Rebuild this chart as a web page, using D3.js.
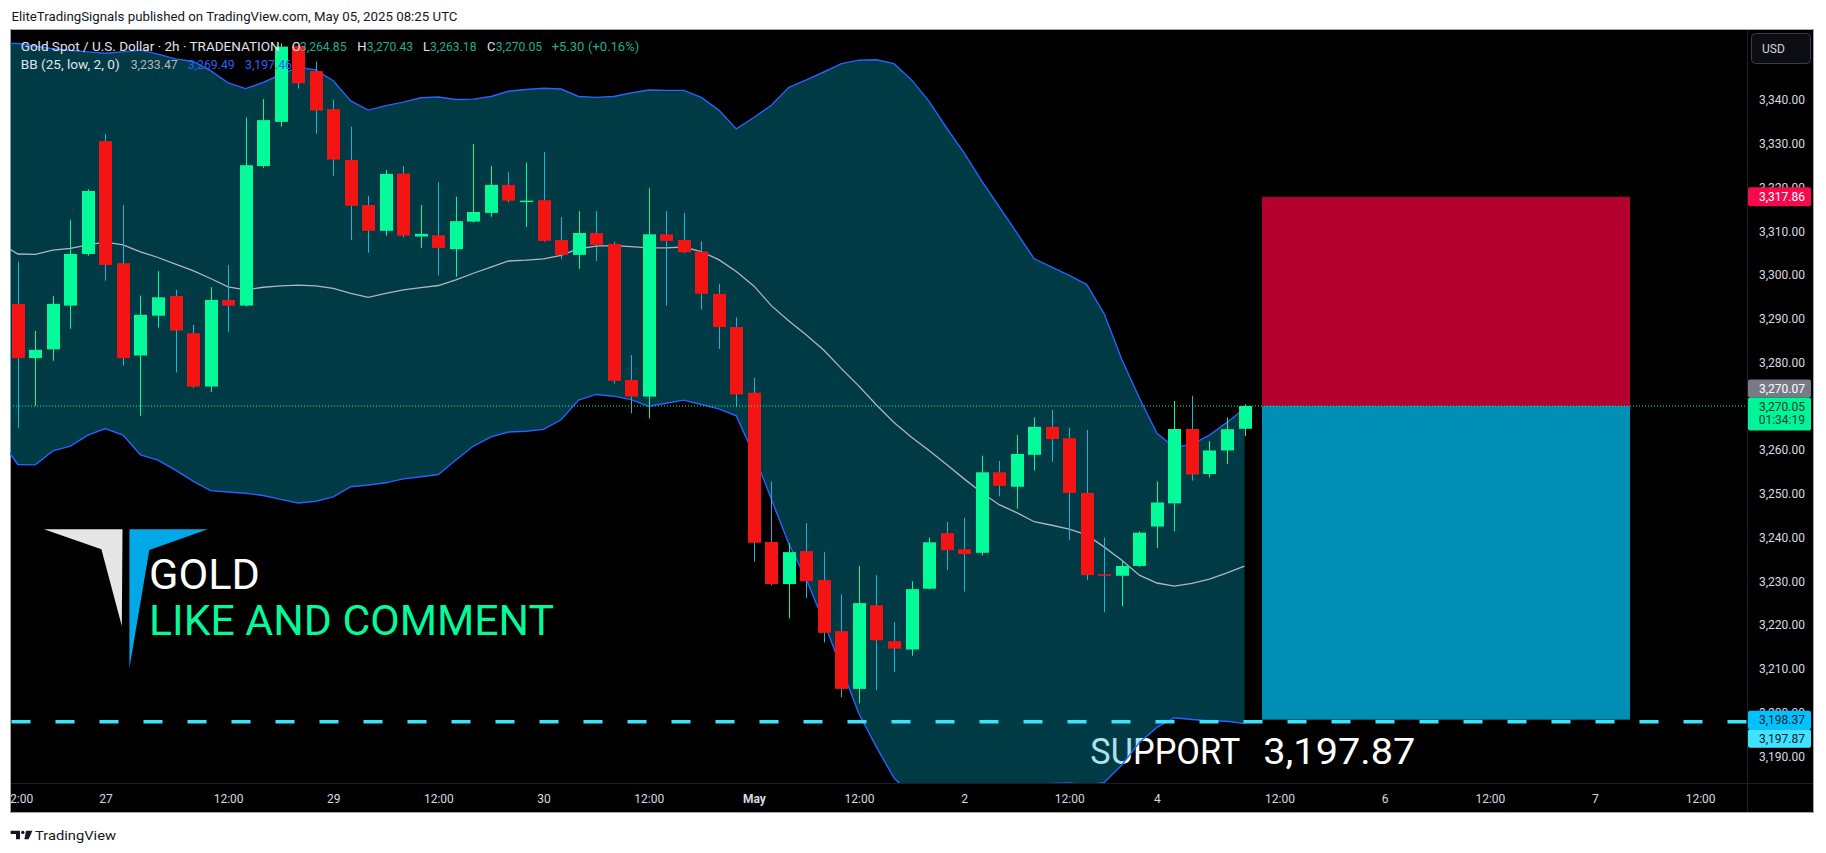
<!DOCTYPE html>
<html>
<head>
<meta charset="utf-8">
<script src="https://cdn.jsdelivr.net/npm/d3@7/dist/d3.min.js"></script>
<style>
  html, body { margin:0; padding:0; background:#ffffff; overflow:hidden; }
  svg { display:block; }
  text { font-family: Roboto, "Liberation Sans", sans-serif; }
</style>
</head>
<body>
<svg id="chart" width="1826" height="853"></svg>
<script>
// ---------------- DATA ----------------
// 2h candles, bar 0 = 25 Apr 12:00 ... bar 70 = 5 May 08:00
const opens = [3293.4,3281.0,3283.0,3293.0,3304.8,3330.6,3302.7,3281.6,3290.7,3295.2,
  3286.7,3274.5,3294.3,3293.0,3324.9,3335.0,3352.3,3346.6,3337.9,3326.3,
  3316.0,3310.1,3323.2,3308.8,3309.1,3305.9,3312.2,3314.2,3320.6,3316.7,
  3317.1,3308.0,3304.6,3309.6,3307.1,3276.0,3272.2,3309.3,3308.0,3305.35,
  3295.7,3288.1,3273.1,3239.0,3229.35,3236.9,3230.3,3218.6,3205.4,3224.5,
  3216.3,3214.4,3228.3,3241.0,3237.3,3236.5,3254.9,3251.6,3258.9,3265.3,
  3262.7,3250.2,3231.6,3231.25,3233.5,3242.5,3247.8,3264.8,3254.5,3259.9,
  3264.85];
const highs = [3303.0,3287.2,3295.2,3312.6,3319.6,3332.2,3316.0,3295.3,3300.9,3296.6,
  3288.6,3297.2,3302.3,3336.0,3340.2,3353.0,3352.6,3348.8,3340.1,3333.9,
  3318.1,3324.0,3324.9,3316.0,3321.2,3317.9,3329.9,3324.9,3323.5,3325.7,
  3328.1,3313.2,3314.6,3314.6,3307.6,3281.7,3319.85,3314.6,3314.2,3307.7,
  3298.0,3290.3,3276.45,3252.8,3238.7,3243.3,3236.65,3227.0,3233.5,3231.4,
  3220.7,3230.0,3240.0,3243.6,3244.5,3258.7,3257.5,3263.4,3267.45,3269.15,
  3265.1,3264.6,3240.0,3234.75,3241.4,3252.8,3271.2,3272.4,3262.05,3267.45,
  3270.43];
const lows = [3265.1,3270.1,3280.4,3287.7,3304.4,3298.7,3279.3,3267.8,3288.0,3277.7,
  3274.2,3273.3,3287.0,3292.8,3324.5,3333.9,3342.6,3332.3,3322.7,3308.0,
  3305.1,3309.0,3308.6,3306.2,3299.9,3299.6,3312.0,3313.3,3316.6,3311.0,
  3307.6,3303.6,3301.4,3303.2,3275.2,3268.4,3267.2,3293.0,3305.0,3292.1,
  3283.1,3269.8,3234.5,3229.1,3221.5,3226.2,3216.0,3203.5,3202.1,3205.1,
  3209.2,3213.0,3228.1,3232.6,3227.65,3235.9,3249.4,3246.6,3255.3,3257.3,
  3239.5,3230.3,3222.9,3224.3,3233.3,3237.6,3241.4,3253.0,3253.7,3256.8,
  3263.18];
const closes = [3281.0,3282.9,3293.4,3304.8,3319.2,3302.3,3281.0,3290.9,3294.9,3287.3,
  3274.5,3294.3,3293.0,3325.1,3335.4,3352.2,3343.8,3337.6,3326.4,3315.8,
  3310.1,3323.1,3309.0,3309.4,3306.2,3312.3,3314.4,3320.6,3317.0,3317.0,
  3307.8,3304.6,3309.6,3306.9,3275.8,3272.2,3309.3,3307.8,3305.2,3295.7,
  3288.1,3272.7,3238.8,3229.35,3236.65,3230.0,3218.2,3205.4,3225.0,3216.5,
  3214.6,3228.2,3238.9,3237.1,3236.2,3254.9,3251.8,3259.1,3265.3,3262.5,
  3250.2,3231.4,3231.4,3233.5,3241.1,3248.0,3264.8,3254.4,3259.9,3264.75,
  3270.05];

// Bollinger Bands (25, low, 2, 0) — first value belongs to bar -1
const bandFirstBar = -1;
const bbUpper = [3353.0,3352.9,3352.3,3351.7,3351.3,3351.0,3350.7,3351.0,3351.4,3350.5,3349.4,
  3348.8,3346.7,3343.9,3342.6,3344.0,3345.8,3347.5,3346.9,3344.4,3339.8,
  3337.7,3338.7,3339.5,3340.5,3340.7,3340.1,3340.2,3340.8,3342.0,3342.4,
  3342.7,3342.5,3340.8,3340.6,3340.8,3341.6,3342.3,3342.2,3342.2,3340.6,
  3337.7,3333.4,3336.0,3338.8,3342.9,3344.6,3346.4,3348.3,3349.1,3349.2,
  3348.3,3344.6,3339.7,3333.6,3327.9,3321.5,3315.6,3309.7,3303.7,3301.8,
  3299.9,3297.8,3291.1,3280.7,3271.9,3263.8,3260.6,3261.3,3263.4,3266.3,
  3269.49];
const bbMiddle = [3307.2,3304.8,3304.7,3305.7,3306.1,3306.9,3307.5,3306.9,3305.3,3304.0,3302.5,
  3301.0,3299.2,3297.3,3296.6,3297.2,3297.5,3297.7,3297.5,3296.95,3295.8,
  3294.9,3295.8,3296.6,3297.1,3297.6,3298.9,3300.4,3301.8,3303.2,3303.4,
  3303.7,3304.5,3306.0,3306.6,3306.7,3306.5,3306.2,3306.2,3306.4,3305.35,
  3303.5,3300.8,3297.5,3293.0,3289.5,3286.3,3282.8,3278.6,3274.6,3270.3,
  3266.3,3262.9,3259.9,3256.7,3253.4,3250.3,3247.5,3245.7,3243.6,3242.8,
  3241.9,3240.6,3237.8,3234.8,3231.4,3229.6,3228.9,3229.5,3230.5,3231.9,
  3233.47];
const bbLower = [3262.3,3256.7,3256.6,3259.8,3260.9,3263.4,3264.9,3263.4,3258.9,3257.7,3255.4,
  3252.9,3250.7,3250.4,3250.1,3249.6,3248.7,3247.9,3248.3,3249.3,3251.6,
  3252.0,3252.5,3253.4,3253.9,3254.4,3257.7,3260.9,3263.0,3264.1,3264.3,
  3264.7,3266.9,3271.4,3272.7,3272.3,3271.5,3270.0,3270.7,3271.4,3270.4,
  3269.4,3267.8,3259.0,3248.8,3238.5,3230.4,3220.7,3210.1,3199.7,3192.1,
  3185.0,3181.2,3180.1,3179.8,3178.9,3179.1,3179.4,3181.7,3183.5,3183.8,
  3183.9,3183.4,3184.0,3188.0,3193.1,3196.6,3198.8,3198.4,3198.1,3198.0,
  3197.46];

// time axis
const xTickBars   = [0, 5, 12, 18, 24, 30, 36, 42, 48, 54, 60, 65, 72, 78, 84, 90, 96];
const xTickLabels = ["12:00","27","12:00","29","12:00","30","12:00","May","12:00","2","12:00","4","12:00","6","12:00","7","12:00"];
// price axis
const yTicks = [3190,3200,3210,3220,3230,3240,3250,3260,3270,3280,3290,3300,3310,3320,3330,3340];

// position tool & levels
const stopPrice = 3317.86, entryPrice = 3270.07, lastPrice = 3270.05, targetPrice = 3198.37, supportPrice = 3197.87;
const positionBars = [71, 92];
const countdown = "01:34:19";
const supportLabelAt = [61.2, 3188.2];

// ---------------- RENDER ----------------
const svg = d3.select('#chart');
const P = {l: 10, r: 1747, t: 30, b: 783};
const fmt = d3.format(",.2f");

const xScale = d3.scaleLinear().domain([0, 70]).range([17.8, 1244.5]);
const yScale = d3.scaleLinear().domain([3190, 3340]).range([756.25, 100]);

const defs = svg.append('defs');
defs.append('clipPath').attr('id','plotClip').append('rect')
  .attr('x',P.l).attr('y',P.t).attr('width',P.r-P.l).attr('height',P.b-P.t);
defs.append('clipPath').attr('id','xClip').append('rect')
  .attr('x',P.l+1).attr('y',P.b).attr('width',P.r-P.l).attr('height',30);

// chart frame
svg.append('rect').attr('x',10.5).attr('y',29.5).attr('width',1803).attr('height',783)
  .attr('fill','#000').attr('stroke','#a3a6af').attr('stroke-width',1);

// header
svg.append('text').attr('x',11.5).attr('y',20.5)
  .attr('font-size',13).attr('fill','#131722')
  .attr('textLength',446).attr('lengthAdjust','spacingAndGlyphs')
  .text('EliteTradingSignals published on TradingView.com, May 05, 2025 08:25 UTC');

const gp = svg.append('g').attr('clip-path','url(#plotClip)');

// support annotation text (under the band fill)
const sx = xScale(supportLabelAt[0]), sy = yScale(supportLabelAt[1]);
gp.append('text').attr('x',sx).attr('y',sy).attr('fill','#ffffff')
  .attr('font-family','"DejaVu Sans", sans-serif').attr('font-size',36)
  .attr('textLength',150).attr('lengthAdjust','spacingAndGlyphs').text('SUPPORT');
gp.append('text').attr('x',sx+173).attr('y',sy).attr('fill','#ffffff')
  .attr('font-family','"DejaVu Sans", sans-serif').attr('font-size',36)
  .attr('textLength',152).attr('lengthAdjust','spacingAndGlyphs').text(fmt(supportPrice));

// bands
const bandData = bbUpper.map((u,k)=>({i:k+bandFirstBar, u:u, m:bbMiddle[k], lo:bbLower[k]}));
gp.append('path').datum(bandData)
  .attr('d', d3.area().x(d=>xScale(d.i)).y0(d=>yScale(d.lo)).y1(d=>yScale(d.u)))
  .attr('fill','rgba(0,170,200,0.34)');
const lineOf = key => d3.line().x(d=>xScale(d.i)).y(d=>yScale(d[key]));
gp.append('path').datum(bandData).attr('d', lineOf('m')).attr('fill','none')
  .attr('stroke','#b2b5be').attr('stroke-width',1.3);
gp.append('path').datum(bandData).attr('d', lineOf('u')).attr('fill','none')
  .attr('stroke','#2962ff').attr('stroke-width',1.4);
gp.append('path').datum(bandData).attr('d', lineOf('lo')).attr('fill','none')
  .attr('stroke','#2962ff').attr('stroke-width',1.4);

// position tool boxes
const bx0 = xScale(positionBars[0]), bx1 = xScale(positionBars[1]);
gp.append('rect').attr('x',bx0).attr('width',bx1-bx0)
  .attr('y',yScale(stopPrice)).attr('height',yScale(entryPrice)-yScale(stopPrice))
  .attr('fill','#b3002e');
gp.append('rect').attr('x',bx0).attr('width',bx1-bx0)
  .attr('y',yScale(entryPrice)).attr('height',yScale(targetPrice)-yScale(entryPrice))
  .attr('fill','#008fb4');

// candles
const bars = opens.map((o,i)=>({i:i, o:o, h:highs[i], l:lows[i], c:closes[i]}));
const isUp = d => d.c >= d.o;
const GREEN = '#05fa99', RED = '#f51414', RED_WICK = '#1cb5d9';
gp.selectAll('line.wick').data(bars).join('line').attr('class','wick')
  .attr('x1',d=>Math.round(xScale(d.i))+0.5).attr('x2',d=>Math.round(xScale(d.i))+0.5)
  .attr('y1',d=>yScale(d.h)).attr('y2',d=>yScale(d.l))
  .attr('stroke',d=>isUp(d)?GREEN:RED_WICK).attr('stroke-width',1);
gp.selectAll('rect.body').data(bars).join('rect').attr('class','body')
  .attr('x',d=>Math.round(xScale(d.i))-6).attr('width',13)
  .attr('y',d=>yScale(Math.max(d.o,d.c)))
  .attr('height',d=>Math.max(1.5, Math.abs(yScale(d.o)-yScale(d.c))))
  .attr('fill',d=>isUp(d)?GREEN:RED);

// last price dotted line
gp.append('line').attr('x1',P.l).attr('x2',P.r)
  .attr('y1',yScale(lastPrice)).attr('y2',yScale(lastPrice))
  .attr('stroke','#00fa9a').attr('stroke-width',1).attr('stroke-dasharray','1,2');

// support dashed line
gp.append('line').attr('x1',11.5).attr('x2',P.r)
  .attr('y1',yScale(supportPrice)).attr('y2',yScale(supportPrice))
  .attr('stroke','#3ce4fa').attr('stroke-width',3.5).attr('stroke-dasharray','19,25');

// logo + texts
gp.append('polygon').attr('points','44,529.3 122.5,529.3 121.8,626 101.4,549.3').attr('fill','#e6e6e6');
gp.append('polygon').attr('points','129.4,529.3 207.8,529.3 149.3,550 129.4,668.3').attr('fill','#02a9e6');
gp.append('text').attr('x',149).attr('y',589).attr('fill','#ffffff')
  .attr('font-family','"DejaVu Sans", sans-serif').attr('font-size',42)
  .attr('textLength',111).attr('lengthAdjust','spacingAndGlyphs').text('GOLD');
gp.append('text').attr('x',149).attr('y',635).attr('fill','#05fa99')
  .attr('font-family','"DejaVu Sans", sans-serif').attr('font-size',42)
  .attr('textLength',405).attr('lengthAdjust','spacingAndGlyphs').text('LIKE AND COMMENT');

// separators
svg.append('line').attr('x1',P.r+0.5).attr('x2',P.r+0.5).attr('y1',30).attr('y2',812)
  .attr('stroke','#1c1f29').attr('stroke-width',1);
svg.append('line').attr('x1',11).attr('x2',1813).attr('y1',P.b+0.5).attr('y2',P.b+0.5)
  .attr('stroke','#1c1f29').attr('stroke-width',1);

// legend
const leg = svg.append('g').attr('font-size',13);
const TXT = '#e0e3eb', VAL = '#22ab94';
const last = bars[bars.length-1], prevClose = closes[closes.length-2];
const chg = last.c - prevClose;
leg.append('text').attr('x',20.7).attr('y',50.5).attr('fill',TXT)
  .attr('textLength',259).attr('lengthAdjust','spacingAndGlyphs')
  .text('Gold Spot / U.S. Dollar \u00B7 2h \u00B7 TRADENATION');
[[291.7,'O',300,last.o],[357.3,'H',366.7,last.h],[423,'L',430,last.l],[487,'C',495.7,last.c]].forEach(a=>{
  leg.append('text').attr('x',a[0]).attr('y',50.5).attr('fill',TXT).text(a[1]);
  leg.append('text').attr('x',a[2]).attr('y',50.5).attr('fill',VAL)
    .attr('textLength',46.5).attr('lengthAdjust','spacingAndGlyphs').text(fmt(a[3]));
});
leg.append('text').attr('x',551.7).attr('y',50.5).attr('fill',VAL).text((chg>=0?'+':'')+d3.format('.2f')(chg));
leg.append('text').attr('x',588).attr('y',50.5).attr('fill',VAL)
  .text('(' + (chg>=0?'+':'') + d3.format('.2f')(chg/prevClose*100) + '%)');
leg.append('text').attr('x',20.7).attr('y',68.5).attr('fill',TXT)
  .attr('textLength',99).attr('lengthAdjust','spacingAndGlyphs').text('BB (25, low, 2, 0)');
leg.append('text').attr('x',130.7).attr('y',68.5).attr('fill','#b2b5be')
  .attr('textLength',47).attr('lengthAdjust','spacingAndGlyphs').text(fmt(bbMiddle[bbMiddle.length-1]));
leg.append('text').attr('x',187.7).attr('y',68.5).attr('fill','#2962ff')
  .attr('textLength',47).attr('lengthAdjust','spacingAndGlyphs').text(fmt(bbUpper[bbUpper.length-1]));
leg.append('text').attr('x',245).attr('y',68.5).attr('fill','#2962ff')
  .attr('textLength',47).attr('lengthAdjust','spacingAndGlyphs').text(fmt(bbLower[bbLower.length-1]));

// price axis
const yAxis = d3.axisRight(yScale).tickValues(yTicks).tickFormat(fmt).tickSize(0).tickPadding(0);
const ga = svg.append('g').attr('transform','translate(1805,0)').call(yAxis);
ga.select('.domain').remove();
ga.selectAll('text').attr('text-anchor','end').attr('x',0).attr('fill','#d8dae0')
  .attr('font-size',12).attr('font-family','Roboto, sans-serif');

// time axis
const xAxis = d3.axisBottom(xScale).tickValues(xTickBars).tickFormat((d,i)=>xTickLabels[i]).tickSize(0).tickPadding(0);
const gxo = svg.append('g').attr('clip-path','url(#xClip)');
const gx = gxo.append('g').attr('transform','translate(0,803)').call(xAxis);
gx.select('.domain').remove();
gx.selectAll('text').attr('y',0).attr('dy',0).attr('fill','#d8dae0')
  .attr('font-size',12).attr('font-family','Roboto, sans-serif')
  .attr('font-weight',(d,i)=>xTickLabels[i]==='May'?'bold':'normal');

// price tags
function tag(y0, h, fill, lines, tfill){
  svg.append('rect').attr('x',1748).attr('y',y0).attr('width',63).attr('height',h)
    .attr('rx',2).attr('fill',fill);
  lines.forEach(l=>{
    svg.append('text').attr('x',1805).attr('y',l[1]).attr('dy','0.35em')
      .attr('text-anchor','end').attr('font-size',12).attr('fill',tfill).text(l[0]);
  });
}
const ys = yScale(stopPrice);
tag(ys-9.5, 19, '#f70a4d', [[fmt(stopPrice), ys]], '#ffffff');
const yl = yScale(lastPrice);
const gTop = yl - 8.5;
tag(gTop-18, 18, '#787b86', [[fmt(entryPrice), gTop-9]], '#ffffff');
tag(gTop, 33, '#00f59b', [[fmt(lastPrice), yl+0.5], [countdown, yl+14]], '#0b3b2c');
const yt = yScale(targetPrice);
tag(yt-9, 18.5, '#00c2ff', [[fmt(targetPrice), yt+0.3]], '#0d2230');
tag(yt+9.5, 18.5, '#3fe3ff', [[fmt(supportPrice), yt+18.8]], '#0d2230');

// USD button
svg.append('rect').attr('x',1751.5).attr('y',33.5).attr('width',59).attr('height',30).attr('rx',4)
  .attr('fill','#0c0e13').attr('stroke','#3a3e4a');
svg.append('text').attr('x',1762).attr('y',48.5).attr('dy','0.35em').attr('font-size',12)
  .attr('fill','#d1d4dc').text('USD');

// footer
const ft = svg.append('g').attr('fill','#131722');
ft.append('path').attr('d','M10.6,830.7 H20 V839.3 H16 V834 H10.6 Z');
ft.append('circle').attr('cx',22.8).attr('cy',832.4).attr('r',1.7);
ft.append('path').attr('d','M26,830.7 H32.4 L28.6,839.3 H24.4 Z');
ft.append('text').attr('x',35).attr('y',839.5).attr('font-size',13)
  .attr('textLength',81).attr('lengthAdjust','spacingAndGlyphs').text('TradingView');
</script>
</body>
</html>
